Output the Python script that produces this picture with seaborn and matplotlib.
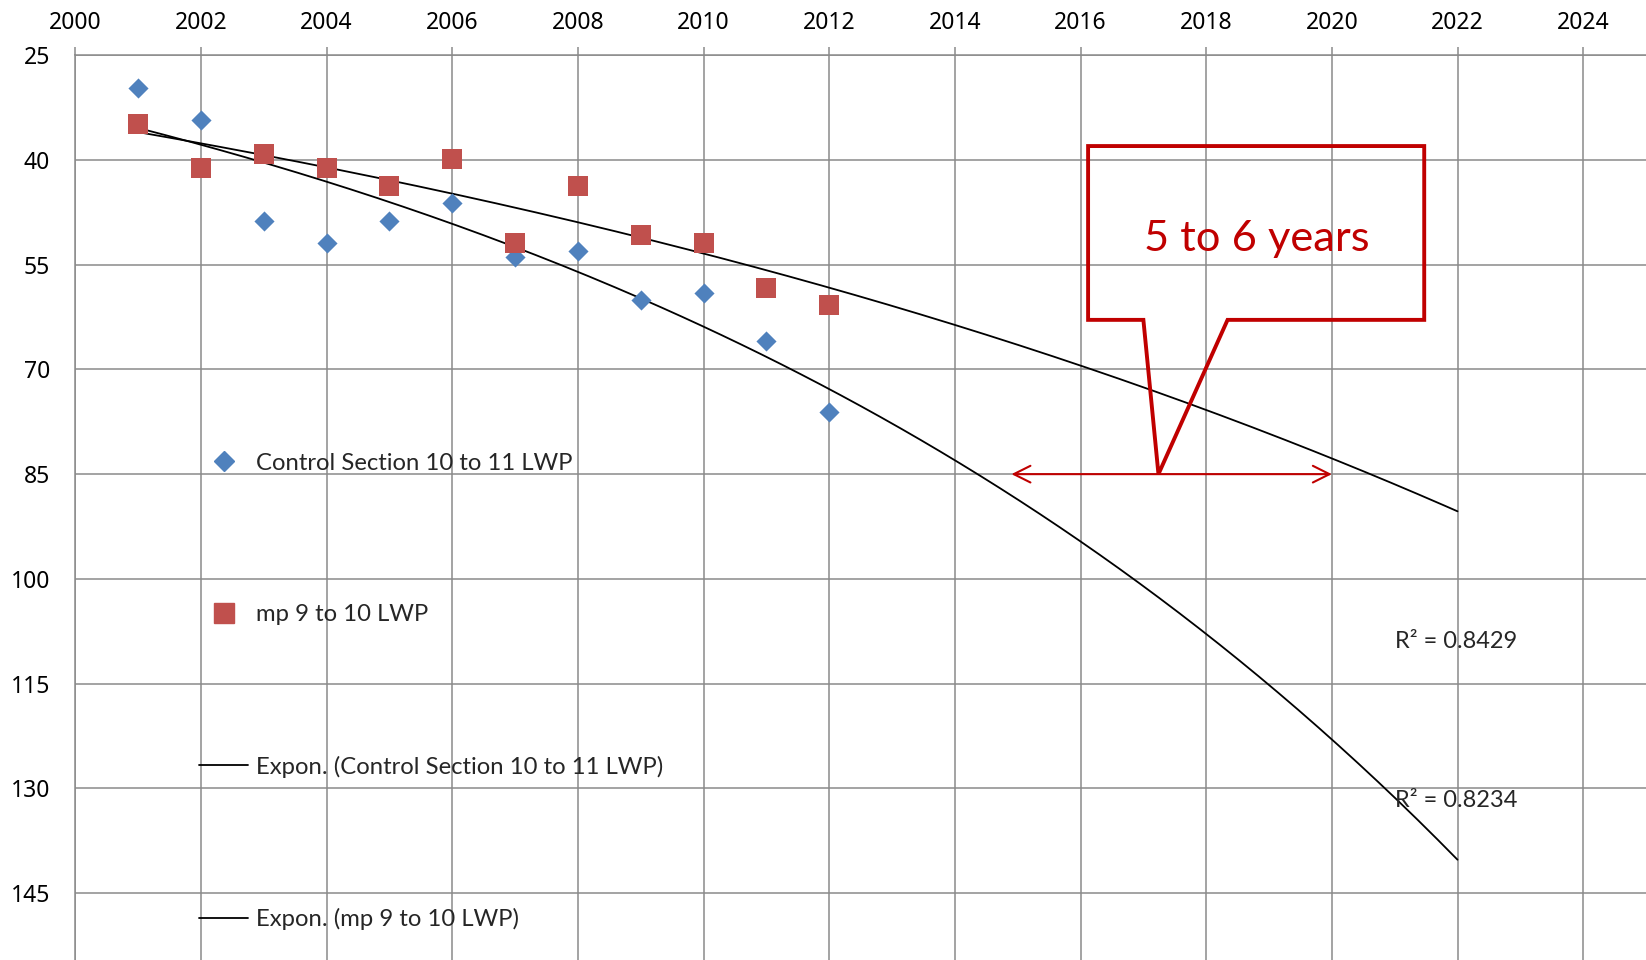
import numpy as np
import pandas as pd
import seaborn as sns
import matplotlib.pyplot as plt
from matplotlib.lines import Line2D
from matplotlib.patches import Polygon

sns.set_style("white")
plt.rcParams["font.family"] = ["Lato", "DejaVu Sans"]

# data
years = [2001, 2002, 2003, 2004, 2005, 2006, 2007, 2008, 2009, 2010, 2011, 2012]
control = [29.7, 34.2, 48.7, 51.9, 48.7, 46.2, 53.9, 53.1, 60.1, 59.0, 65.9, 76.1]
mp = [34.8, 41.2, 39.2, 41.2, 43.7, 39.9, 51.9, 43.7, 50.7, 51.9, 58.3, 60.8]
names = ["Control Section 10 to 11 LWP", "mp 9 to 10 LWP"]
r2_labels = ["R² = 0.8429", "R² = 0.8234"]
trend_end = 2022

x_ticks = list(range(2000, 2025, 2))
y_ticks = list(range(25, 146, 15))

blue = "#4F81BD"
red = "#C0504D"
dark_red = "#C00000"
grid_c = "#8A8A8A"

df = pd.DataFrame({"year": years * 2,
                   "value": control + mp,
                   "series": [names[0]] * len(years) + [names[1]] * len(years)})

fig = plt.figure(figsize=(16.46, 9.6), dpi=100)
left = 75.3 / 1646
top = (960 - 55.3) / 960
ax = fig.add_axes([left, 0, 1 - left, top])

# exponential trend lines (Excel-style fit on log values)
xs = np.linspace(years[0], trend_end, 200)
for vals in (control, mp):
    b, a = np.polyfit(np.array(years) - 2000, np.log(vals), 1)
    sns.lineplot(x=xs, y=np.exp(a + b * (xs - 2000)), color="black", lw=1.3, ax=ax, zorder=3)

sns.scatterplot(data=df[df.series == names[0]], x="year", y="value", marker="D",
                color=blue, s=105, linewidth=0, ax=ax, zorder=4)
sns.scatterplot(data=df[df.series == names[1]], x="year", y="value", marker="s",
                color=red, s=215, linewidth=0, ax=ax, zorder=4)

ax.set_xlim(2000, 2025)
ax.set_ylim(154.6, 25)
ax.set_xticks(x_ticks)
ax.set_yticks(y_ticks)
ax.xaxis.tick_top()
ax.set_xlabel("")
ax.set_ylabel("")
ax.grid(True, color=grid_c, lw=1.1)
ax.set_axisbelow(True)
for side in ["right", "bottom"]:
    ax.spines[side].set_visible(False)
for side in ["left", "top"]:
    ax.spines[side].set_color(grid_c)
    ax.spines[side].set_linewidth(1.1)
ax.tick_params(axis="both", colors=grid_c, labelcolor="black",
               length=5.8, width=1.1, direction="out")
ax.tick_params(axis="x", pad=9)
ax.tick_params(axis="y", pad=12.5)
for lab in ax.get_xticklabels() + ax.get_yticklabels():
    lab.set_family(["Noto Sans", "DejaVu Sans"])
    lab.set_fontsize(16.5)

# legend spread down the plot like the original
handles = [
    Line2D([], [], ls="", marker="D", color=blue, markersize=10),
    Line2D([], [], ls="", marker="s", color=red, markersize=14),
    Line2D([], [], color="black", lw=1.3),
    Line2D([], [], color="black", lw=1.3),
]
labels = [names[0], names[1], "Expon. (" + names[0] + ")", "Expon. (" + names[1] + ")"]
ax.legend(handles, labels, loc="upper left", bbox_to_anchor=(0.0788, 0.5608),
          frameon=False, fontsize=17.2, labelspacing=5.46, handlelength=2.06,
          handletextpad=0.31, borderpad=0, borderaxespad=0)

# R² labels
ax.text(2021.0, 109.0, r2_labels[0], fontsize=17, va="center", ha="left")
ax.text(2021.0, 131.8, r2_labels[1], fontsize=17, va="center", ha="left")

# callout box
callout = [(2016.12, 38.0), (2021.47, 38.0), (2021.47, 62.9), (2018.34, 62.9),
           (2017.24, 85.0), (2017.0, 62.9), (2016.12, 62.9)]
ax.add_patch(Polygon(callout, closed=True, fill=False, ec=dark_red, lw=2.8,
                     joinstyle="miter", zorder=5))
ax.text(2018.8, 51.35, "5 to 6 years", color=dark_red, fontsize=31.3,
        ha="center", va="center", zorder=6)
ax.annotate("", xy=(2014.9, 85), xytext=(2020.0, 85),
            arrowprops=dict(arrowstyle="<->", color=dark_red, lw=1.5,
                            mutation_scale=30, shrinkA=0, shrinkB=0), zorder=6)

fig.savefig("out.png", dpi=100)
